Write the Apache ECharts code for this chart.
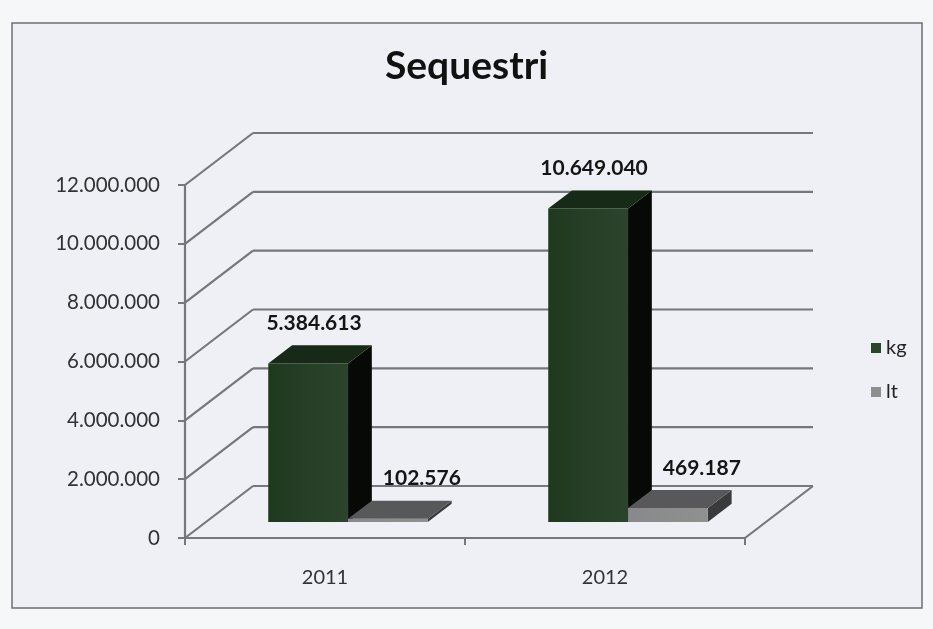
<!DOCTYPE html>
<html>
<head>
<meta charset="utf-8">
<script src="https://cdn.jsdelivr.net/npm/echarts@6/dist/echarts.min.js"></script>
<style>
  html, body { margin: 0; padding: 0; background: #f6f7f9; }
  #chart { width: 933px; height: 629px; }
</style>
</head>
<body>
<div id="chart"></div>
<script>
// ---- data ----
const titleText = 'Sequestri';
const categories = ['2011', '2012'];
const seriesNames = ['kg', 'lt'];
const kgValues = [5384613, 10649040];
const ltValues = [102576, 469187];
const yTicks = [0, 2000000, 4000000, 6000000, 8000000, 10000000, 12000000];

// ---- style constants ----
const FONT = 'Lato, "Open Sans", sans-serif';
const DEPTH = [68, -52];      // pixel vector from front to back of floor
const D_FRONT = 0.31;         // bar front depth fraction
const D_BACK = 0.66;          // bar back depth fraction
const GRID_COLOR = '#76777d';

function fmt(v) {
  return String(v).replace(/\B(?=(\d{3})+(?!\d))/g, '.');
}

const palettes = {
  kg: { front: '#1f391f', top: '#172a17', side: '#060906', legend: '#2a472a', labelDx: -6 },
  lt: { front: '#89898b', top: '#58585a', side: '#3a3a3c', legend: '#8e8e90', labelDx: 22 }
};

function barRenderer(name, slot) {
  const pal = palettes[name];
  return function (params, api) {
    const cat = api.value(0);
    const val = api.value(1);
    const base = api.coord([cat, 0]);
    const topPt = api.coord([cat, val]);
    const band = api.size([1, 0])[0];
    const barW = band * 0.285;
    const startOff = band * 0.222;
    const x0 = base[0] - band / 2 + startOff + slot * barW;
    const x1 = x0 + barW;
    const fx = DEPTH[0] * D_FRONT, fy = DEPTH[1] * D_FRONT;
    const bx = DEPTH[0] * D_BACK, by = DEPTH[1] * D_BACK;
    const yb = base[1], yt = topPt[1];
    const front = [[x0 + fx, yb + fy], [x1 + fx, yb + fy], [x1 + fx, yt + fy], [x0 + fx, yt + fy]];
    const top = [[x0 + fx, yt + fy], [x1 + fx, yt + fy], [x1 + bx, yt + by], [x0 + bx, yt + by]];
    const side = [[x1 + fx, yb + fy], [x1 + bx, yb + by], [x1 + bx, yt + by], [x1 + fx, yt + fy]];
    const cx = (x0 + x1) / 2 + (fx + bx) / 2 + pal.labelDx;
    return {
      type: 'group',
      children: [
        { type: 'polygon', shape: { points: side }, style: { fill: pal.side } },
        { type: 'polygon', shape: { points: front }, style: {
            fill: new echarts.graphic.LinearGradient(0, 0, 1, 0, [
              { offset: 0, color: pal.front }, { offset: 1, color: echarts.color.lift(pal.front, 0.06) }
            ]) } },
        { type: 'polygon', shape: { points: top }, style: { fill: pal.top } },
        { type: 'text', style: {
            text: fmt(val), x: cx, y: yt + by - 22,
            align: 'center', verticalAlign: 'middle',
            font: 'bold 21px ' + FONT, fill: '#151515'
          } }
      ]
    };
  };
}

function gridRenderer(params, api) {
  const cs = params.coordSys;
  const v = api.value(0);
  const y = api.coord([0, v])[1];
  const xl = cs.x, xr = cs.x + cs.width;
  const lines = [
    [[xl, y], [xl + DEPTH[0], y + DEPTH[1]]],
    [[xl + DEPTH[0], y + DEPTH[1]], [xr + DEPTH[0], y + DEPTH[1]]]
  ];
  if (v === 0) lines.push([[xr, y], [xr + DEPTH[0], y + DEPTH[1]]]);
  return {
    type: 'group',
    children: lines.map(l => ({
      type: 'polyline', shape: { points: l },
      style: { stroke: GRID_COLOR, lineWidth: 2.2, fill: null }
    }))
  };
}

const chart = echarts.init(document.getElementById('chart'));
chart.setOption({
  animation: false,
  backgroundColor: '#f6f7f9',
  textStyle: { fontFamily: FONT },
  graphic: [{
    type: 'rect', z: -10, silent: true,
    shape: { x: 12, y: 23, width: 910, height: 585 },
    style: { fill: '#eef0f5', stroke: '#6f6f73', lineWidth: 1.5 }
  }],
  title: {
    text: titleText, left: 'center', top: 42,
    textStyle: { fontFamily: FONT, fontSize: 39, fontWeight: 'bold', color: '#111' }
  },
  legend: {
    data: seriesNames, orient: 'vertical', left: 866, top: 333,
    itemWidth: 10, itemHeight: 10, itemGap: 24, icon: 'rect',
    textStyle: { fontFamily: FONT, fontSize: 20, color: '#222' }
  },
  grid: { left: 185, right: 188, top: 185, bottom: 91 },
  xAxis: {
    type: 'category', data: categories,
    axisLine: { lineStyle: { color: GRID_COLOR, width: 2.2 } },
    axisTick: { show: true, length: 7, lineStyle: { color: GRID_COLOR, width: 2 } },
    axisLabel: { margin: 30, fontFamily: FONT, fontSize: 20, color: '#333' },
    splitLine: { show: false }
  },
  yAxis: {
    type: 'value', min: 0, max: 12000000, interval: 2000000,
    axisLine: { show: true, lineStyle: { color: GRID_COLOR, width: 2.2 } },
    axisTick: { show: true, length: 7, lineStyle: { color: GRID_COLOR, width: 2 } },
    axisLabel: { margin: 25, fontFamily: FONT, fontSize: 20.5, color: '#333', formatter: v => fmt(v) },
    splitLine: { show: false }
  },
  series: [
    {
      type: 'custom', name: '_grid', silent: true, z: 1,
      renderItem: gridRenderer,
      encode: { y: 0 },
      data: yTicks.map(v => [v])
    },
    {
      type: 'custom', name: 'kg', z: 3,
      itemStyle: { color: palettes.kg.legend },
      renderItem: barRenderer('kg', 0),
      encode: { x: 0, y: 1 },
      data: kgValues.map((v, i) => [i, v])
    },
    {
      type: 'custom', name: 'lt', z: 4,
      itemStyle: { color: palettes.lt.legend },
      renderItem: barRenderer('lt', 1),
      encode: { x: 0, y: 1 },
      data: ltValues.map((v, i) => [i, v])
    }
  ]
});
</script>
</body>
</html>
